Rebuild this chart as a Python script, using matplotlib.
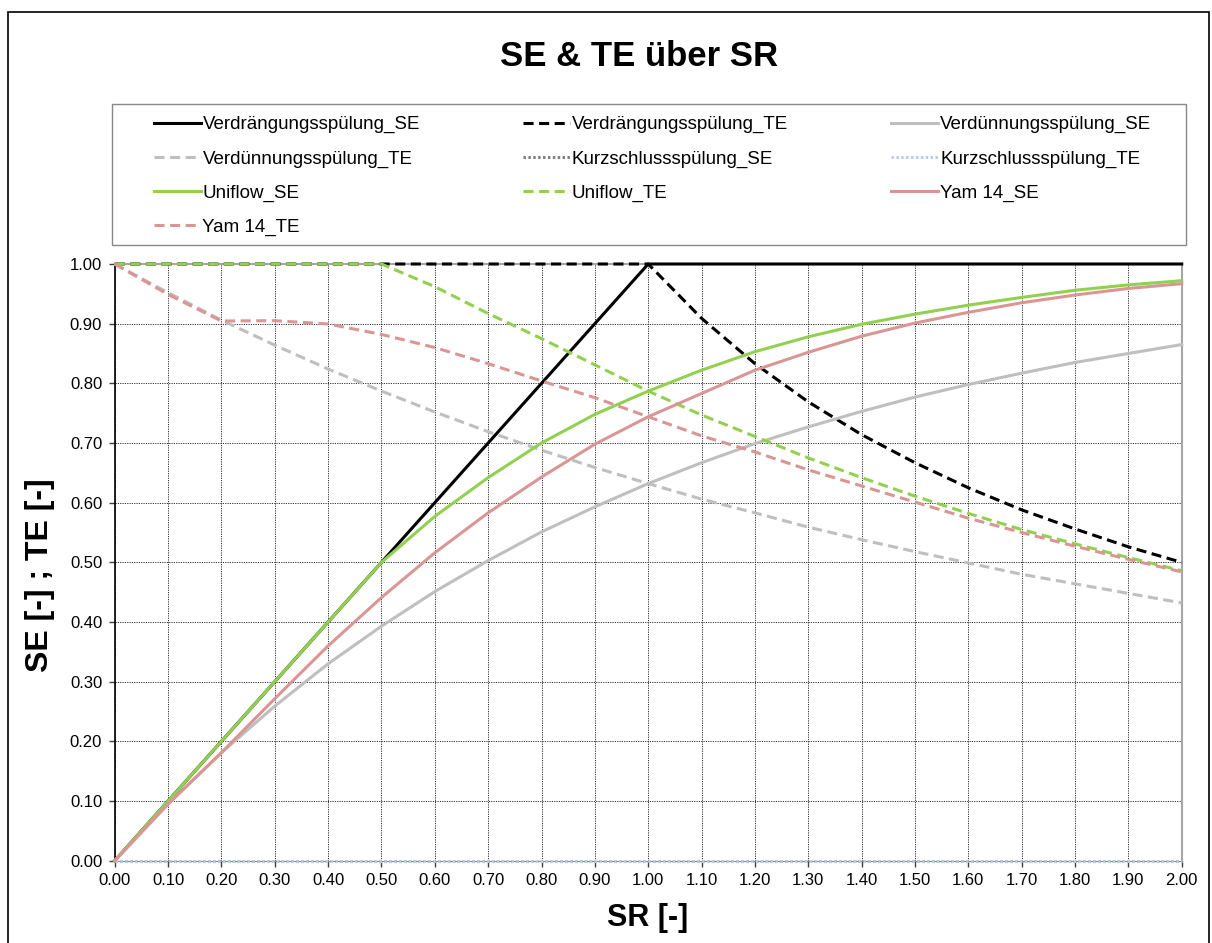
import numpy as np
import matplotlib
matplotlib.use("Agg")
import matplotlib.pyplot as plt
from matplotlib.patches import Rectangle
from matplotlib.ticker import FormatStrFormatter

plt.rcParams['font.family'] = ['Liberation Sans', 'DejaVu Sans']

# Spülverhältnis SR
sr = [0.0, 0.1, 0.2, 0.3, 0.4, 0.5, 0.6, 0.7, 0.8, 0.9, 1.0,
      1.1, 1.2, 1.3, 1.4, 1.5, 1.6, 1.7, 1.8, 1.9, 2.0]

# Verdrängungsspülung
verdr_se = [0.0, 0.1, 0.2, 0.3, 0.4, 0.5, 0.6, 0.7, 0.8, 0.9, 1.0,
            1.0, 1.0, 1.0, 1.0, 1.0, 1.0, 1.0, 1.0, 1.0, 1.0]
verdr_te = [1.0, 1.0, 1.0, 1.0, 1.0, 1.0, 1.0, 1.0, 1.0, 1.0, 1.0,
            0.909, 0.833, 0.769, 0.714, 0.667, 0.625, 0.588, 0.556, 0.526, 0.5]

# Verdünnungsspülung
verdue_se = [0.0, 0.095, 0.181, 0.259, 0.330, 0.393, 0.451, 0.503, 0.551, 0.593, 0.632,
             0.667, 0.699, 0.727, 0.753, 0.777, 0.798, 0.817, 0.835, 0.850, 0.865]
verdue_te = [1.0, 0.952, 0.906, 0.864, 0.824, 0.787, 0.752, 0.719, 0.688, 0.659, 0.632,
             0.606, 0.583, 0.559, 0.538, 0.518, 0.499, 0.480, 0.464, 0.448, 0.432]

# Kurzschlussspülung
kurz_se = [0.0] * 21
kurz_te = [0.0] * 21

# Uniflow
uni_se = [0.0, 0.1, 0.2, 0.3, 0.4, 0.5, 0.577, 0.642, 0.700, 0.748, 0.787,
          0.822, 0.853, 0.878, 0.899, 0.916, 0.931, 0.944, 0.956, 0.965, 0.972]
uni_te = [1.0, 1.0, 1.0, 1.0, 1.0, 1.0, 0.962, 0.917, 0.875, 0.831, 0.787,
          0.747, 0.711, 0.675, 0.642, 0.611, 0.582, 0.555, 0.531, 0.508, 0.486]

# Yam 14
yam_se = [0.0, 0.095, 0.181, 0.2715, 0.360, 0.441, 0.516, 0.583, 0.643, 0.698, 0.744,
          0.783, 0.822, 0.852, 0.879, 0.901, 0.919, 0.935, 0.948, 0.959, 0.967]
yam_te = [1.0, 0.949, 0.9045, 0.905, 0.8995, 0.882, 0.860, 0.833, 0.804, 0.776, 0.744,
          0.712, 0.685, 0.655, 0.628, 0.601, 0.574, 0.550, 0.527, 0.505, 0.484]

W, H = 1212, 943
fig = plt.figure(figsize=(W / 100, H / 100), dpi=100)

# Achsenbereich in Pixeln
x0, x1, y0, y1 = 114.7, 1181.7, 264.0, 860.7
ax = fig.add_axes([x0 / W, 1 - y1 / H, (x1 - x0) / W, (y1 - y0) / H])

lw = 2.2
dash = (0, (3.3, 1.8))
serien = [
    (verdr_se, 'Verdrängungsspülung_SE', 'black', '-'),
    (verdr_te, 'Verdrängungsspülung_TE', 'black', dash),
    (verdue_se, 'Verdünnungsspülung_SE', '#bfbfbf', '-'),
    (verdue_te, 'Verdünnungsspülung_TE', '#bfbfbf', dash),
    (kurz_se, 'Kurzschlussspülung_SE', '#808080', (0, (0.8, 0.8))),
    (kurz_te, 'Kurzschlussspülung_TE', '#b9cde5', (0, (0.8, 0.8))),
    (uni_se, 'Uniflow_SE', '#92d050', '-'),
    (uni_te, 'Uniflow_TE', '#92d050', dash),
    (yam_se, 'Yam 14_SE', '#d99694', '-'),
    (yam_te, 'Yam 14_TE', '#d99694', dash),
]

handles = []
for werte, name, farbe, stil in serien:
    l, = ax.plot(sr, werte, color=farbe, linestyle=stil, lw=lw, label=name,
                 clip_on=False, zorder=3)
    handles.append(l)

ax.set_xlim(0, 2)
ax.set_ylim(0, 1)
ax.set_xticks(np.arange(0, 2.001, 0.1))
ax.set_yticks(np.arange(0, 1.001, 0.1))
ax.xaxis.set_major_formatter(FormatStrFormatter('%.2f'))
ax.yaxis.set_major_formatter(FormatStrFormatter('%.2f'))
ax.tick_params(direction='out', length=4, width=1, labelsize=12, pad=5, color='#404040')
ax.grid(True, color='#303030', linestyle=(0, (1.2, 1.2)), lw=0.7, zorder=0)
ax.set_axisbelow(True)

ax.spines['left'].set_color('black')
ax.spines['left'].set_linewidth(1.2)
ax.spines['bottom'].set_color('#868686')
ax.spines['top'].set_color('#a6a6a6')
ax.spines['right'].set_color('#a6a6a6')
ax.spines['top'].set_linewidth(1.5)
ax.spines['right'].set_linewidth(1.5)

# Titel und Achsentitel
fig.text(639 / W, 1 - 57 / H, 'SE & TE über SR', ha='center', va='center',
         fontsize=25, fontweight='bold')
fig.text(648 / W, 1 - 918 / H, 'SR [-]', ha='center', va='center',
         fontsize=22, fontweight='bold')
fig.text(40 / W, 1 - 575 / H, 'SE [-] ; TE [-]', ha='center', va='center',
         fontsize=23, fontweight='bold', rotation=90)

# Legende zeilenweise wie in Excel
order = [0, 3, 6, 9, 1, 4, 7, 2, 5, 8]
h = [handles[i] for i in order]
lab = [handles[i].get_label() for i in order]
fig.legend(h, lab, ncol=3, mode='expand', loc='center', frameon=False,
           bbox_to_anchor=(150 / W, 1 - 248 / H, (1155 - 150) / W, (248 - 104) / H),
           fontsize=13.5, handlelength=2.5, handletextpad=0.1, labelspacing=0.9,
           borderaxespad=0, borderpad=0.2)
fig.patches.append(Rectangle((112 / W, 1 - 245 / H), (1186 - 112) / W, (245 - 104) / H,
                             transform=fig.transFigure, fill=False,
                             edgecolor='#888888', lw=1))

# Rahmen um das Diagramm
fig.patches.append(Rectangle((8 / W, -0.01), (1209 - 8) / W, 1 - 12 / H + 0.01,
                             transform=fig.transFigure, fill=False,
                             edgecolor='black', lw=1.2))

fig.savefig('out.png', dpi=100)
